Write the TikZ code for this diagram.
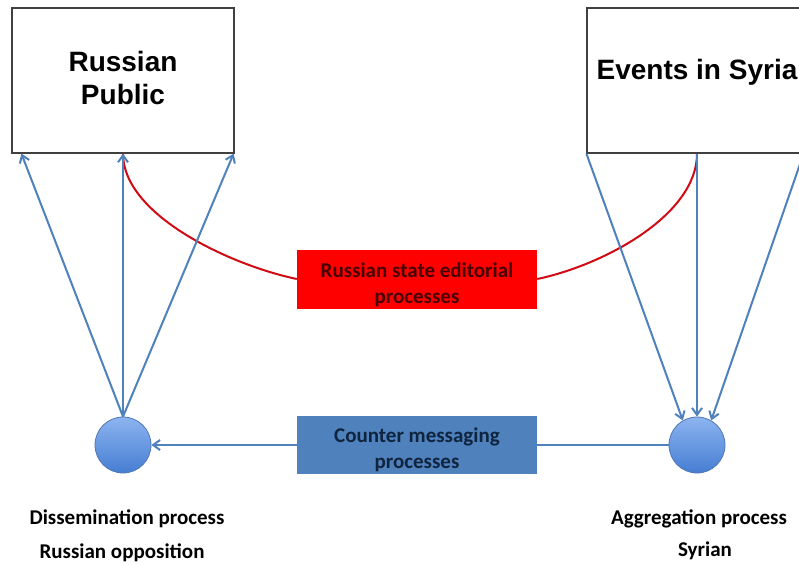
\documentclass[tikz,border=0pt]{standalone}
\usepackage{fontspec}
\setmainfont{Carlito}
\newfontfamily\arialf{Liberation Sans}
\usetikzlibrary{arrows.meta,calc}
\definecolor{arrblue}{RGB}{79,129,189}
\definecolor{boxblue}{RGB}{79,129,189}
\definecolor{navytext}{RGB}{15,36,62}
\definecolor{redtext}{RGB}{70,0,0}
\definecolor{curvered}{RGB}{210,10,20}
\definecolor{circtop}{RGB}{140,180,240}
\definecolor{circbot}{RGB}{70,125,210}
\definecolor{circline}{RGB}{80,120,180}
\newcommand\shifted[2]{\raisebox{#1}[0pt][0pt]{\begin{tabular}{@{}c@{}}#2\end{tabular}}}
\begin{document}
\begin{tikzpicture}[x=1pt,y=-1pt,
  bigbox/.style={draw=black!75,line width=1.2pt,fill=white,inner sep=0pt,align=center,
    font=\arialf\bfseries\fontsize{28}{33}\selectfont},
  procbox/.style={minimum width=240,minimum height=59,inner sep=0pt,align=center,
    font=\bfseries\fontsize{21}{25.5}\selectfont},
  dot/.style={circle,minimum size=56,inner sep=0pt,draw=circline,line width=0.8pt,
    top color=circtop,bottom color=circbot},
  lbl/.style={font=\bfseries\fontsize{21}{25}\selectfont,inner sep=0pt},
  arr/.style={draw=arrblue,line width=2pt,-{Straight Barb[length=7pt,width=10pt,line width=2pt]}},
  plain/.style={draw=arrblue,line width=2pt},
  redc/.style={draw=curvered,line width=2pt}]
\useasboundingbox (0,0) rectangle (799,564);
\clip (0,0) rectangle (799,564);
\fill[white] (0,0) rectangle (799,564);

\node[bigbox,minimum width=222,minimum height=145] (lp) at (123,80.5) {\shifted{-7.5pt}{Russian\\Public}};
\node[bigbox,minimum width=220,minimum height=145,text depth=23pt] (rs) at (697,80.5) {Events in Syria};

\node[procbox,fill=red,text=redtext] (red) at (417,279) {\shifted{-11.5pt}{Russian state editorial\\processes}};
\node[procbox,fill=boxblue,text=navytext,minimum height=58] (blue) at (417,445) {\shifted{-10.5pt}{Counter messaging\\processes}};

\node[dot] (dl) at (123,445) {};
\node[dot] (dr) at (697,445) {};

% red editorial curves
\draw[redc] (red.west) .. controls (230,265) and (123,215) .. (lp.south);
\draw[redc] (red.east) .. controls (604,265) and (697,215) .. (rs.south);

% dissemination arrows
\draw[arr] (dl.north) -- ($(lp.south west)+(10,0)$);
\draw[arr] (dl.north) -- (lp.south);
\draw[arr] (dl.north) -- ($(lp.south east)+(-1,0)$);

% aggregation arrows
\draw[arr] (rs.south west) -- (dr.120);
\draw[arr] (rs.south) -- (dr.north);
\draw[arr] ($(rs.south east)+(-4,0)$) -- (dr.60);

% counter messaging
\draw[plain] (dr.west) -- (blue.east);
\draw[arr] (blue.west) -- (dl.east);

% labels
\node[lbl] (l1) at (127,519) {Dissemination process};
\node[lbl] (l2) at (122,553) {Russian opposition};
\node[lbl] (l3) at (699,519) {Aggregation process};
\node[lbl] (l4) at (705,551) {Syrian};
\end{tikzpicture}
\end{document}
